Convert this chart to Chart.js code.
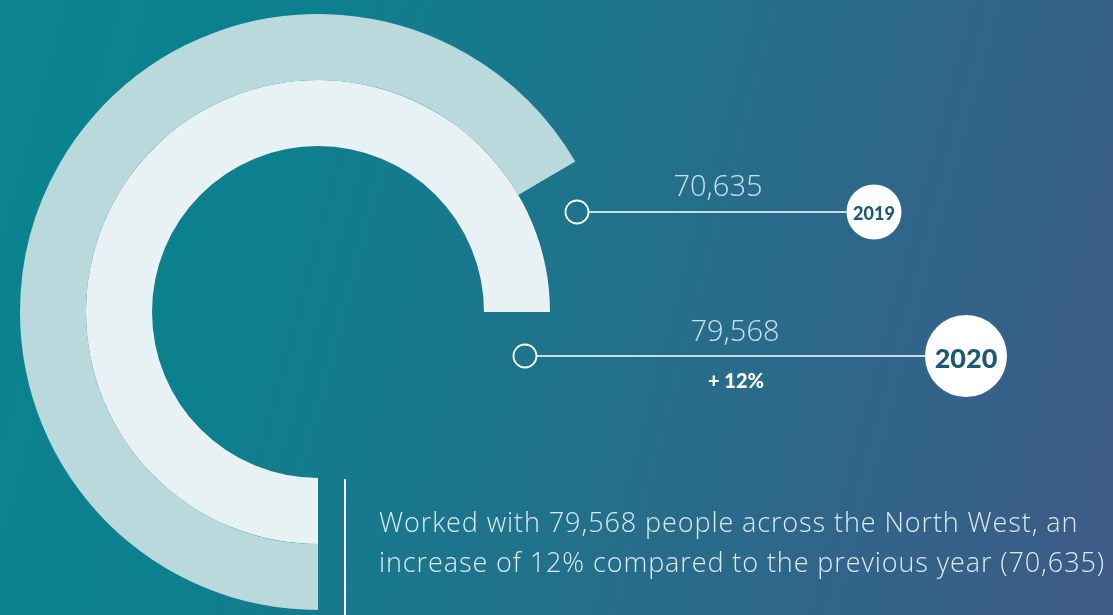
<!DOCTYPE html>
<html>
<head>
<meta charset="utf-8">
<script src="https://cdn.jsdelivr.net/npm/chart.js@4.4.1/dist/chart.umd.min.js"></script>
<style>
  html, body { margin: 0; padding: 0; }
  body {
    width: 1113px; height: 615px; overflow: hidden; position: relative;
    background: linear-gradient(105deg, #0a848f 0%, #0d808e 25%, #22718b 55%, #2f6689 75%, #3e5a86 100%);
    font-family: "Open Sans", Lato, sans-serif;
  }
  #wrap { position: absolute; left: 20px; top: 14px; width: 596px; height: 596px; }
  svg { position: absolute; left: 0; top: 0; }
  .val { position: absolute; font-weight: 300; font-size: 29px; color: #c9e1e5; transform: translateX(-50%); white-space: nowrap; line-height: 1; }
  .badge { position: absolute; font-weight: 900; color: #1b5b72; transform: translate(-50%, -50%); line-height: 1; font-family: Lato, "Open Sans", sans-serif; }
  .chg { position: absolute; font-weight: 900; color: #ffffff; font-size: 20px; transform: translateX(-50%); line-height: 1; font-family: Lato, "Open Sans", sans-serif; white-space: nowrap; }
  .note { position: absolute; left: 379px; top: 502px; font-weight: 300; font-size: 27px; letter-spacing: 0.9px; line-height: 40px; color: #dbeaee; white-space: nowrap; }
</style>
</head>
<body>
<div id="wrap"><canvas id="c" width="596" height="596"></canvas></div>
<svg width="1113" height="615" id="ov"></svg>
<div id="labels"></div>
<script>
// ---- data ----
const years = ['2019', '2020'];
const people = [70635, 79568];
const ringFull = 106091;          // value represented by a full circle
const changeText = ['+ 12%'];
const noteLines = [
  'Worked with 79,568 people across the North West, an',
  'increase of 12% compared to the previous year (70,635)'
];
const ringColors = ['#b9d9dd', '#e8f1f3'];

// ---- chart ----
const datasets = years.map((y, i) => ({
  label: y,
  data: [people[i], ringFull - people[i]],
  backgroundColor: [ringColors[i], 'rgba(0,0,0,0)'],
  borderWidth: 0,
  hoverOffset: 0
}));

new Chart(document.getElementById('c'), {
  type: 'doughnut',
  data: { labels: ['people', 'rest'], datasets },
  options: {
    responsive: false,
    animation: false,
    events: [],
    rotation: 180,
    cutout: '55.7%',
    layout: { padding: 0 },
    plugins: { legend: { display: false }, tooltip: { enabled: false } }
  }
});

// ---- annotations ----
const fmt = v => v.toLocaleString('en-GB');
const rows = [
  { y: 212, x0: 577, x1: 874, r: 27.5, fs: 18, vx: 718, vy: 170, },
  { y: 356, x0: 525, x1: 966, r: 41, fs: 27, vx: 735, vy: 315 }
];
const svg = document.getElementById('ov');
const lab = document.getElementById('labels');
let s = '';
rows.forEach((r, i) => {
  s += `<line x1="${r.x0 + 12}" y1="${r.y}" x2="${r.x1 - r.r}" y2="${r.y}" stroke="#ffffff" stroke-width="1.5"/>`;
  s += `<circle cx="${r.x0}" cy="${r.y}" r="11.5" fill="none" stroke="#ffffff" stroke-width="1.8"/>`;
  s += `<circle cx="${r.x1}" cy="${r.y}" r="${r.r}" fill="#ffffff"/>`;
  lab.innerHTML += `<div class="val" style="left:${r.vx}px;top:${r.vy}px">${fmt(people[i])}</div>`;
  lab.innerHTML += `<div class="badge" style="left:${r.x1}px;top:${r.y + 1}px;font-size:${r.fs}px">${years[i]}</div>`;
});
s += `<line x1="345" y1="479" x2="345" y2="615" stroke="#ffffff" stroke-width="2"/>`;
svg.innerHTML = s;
lab.innerHTML += `<div class="chg" style="left:736px;top:370px">${changeText[0]}</div>`;
lab.innerHTML += `<div class="note">${noteLines.join('<br>')}</div>`;
</script>
</body>
</html>
